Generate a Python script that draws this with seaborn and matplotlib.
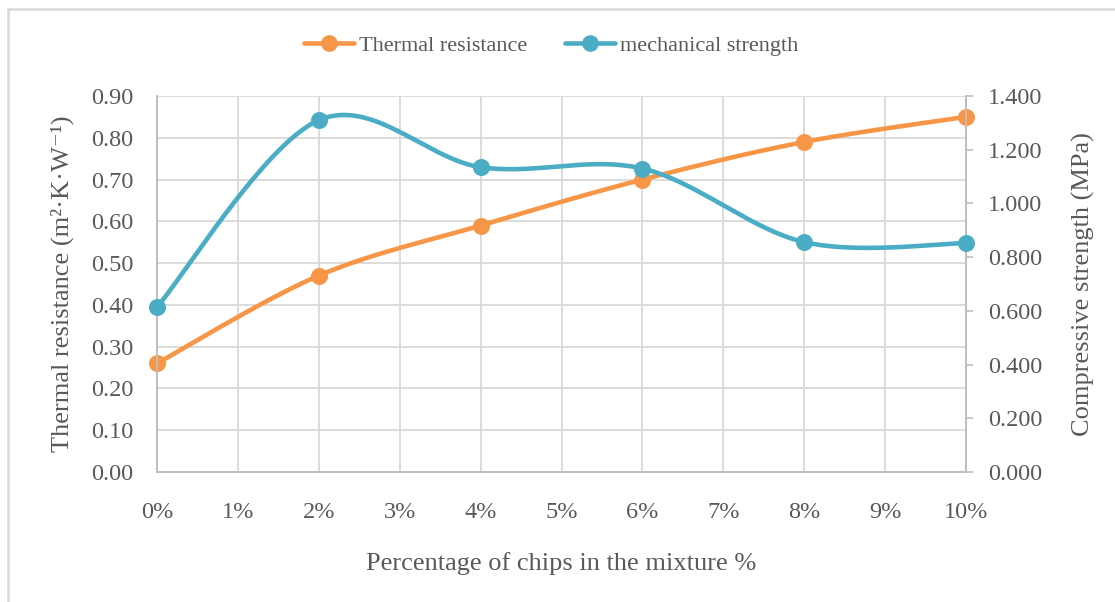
import numpy as np
import pandas as pd
import matplotlib
matplotlib.use("Agg")
import matplotlib.pyplot as plt
from matplotlib.lines import Line2D
import seaborn as sns

# Measured data
chip_pct = [0, 2, 4, 6, 8, 10]
thermal_resistance = [0.26, 0.47, 0.59, 0.70, 0.79, 0.85]
mech_strength = [0.614, 1.310, 1.135, 1.130, 0.856, 0.852]
x_tick_labels = [f"{i}%" for i in range(11)]
left_ticks = [0.0, 0.1, 0.2, 0.3, 0.4, 0.5, 0.6, 0.7, 0.8, 0.9]
right_ticks = [0.0, 0.2, 0.4, 0.6, 0.8, 1.0, 1.2, 1.4]

ORANGE = "#F79646"
BLUE = "#4BACC6"
GRID = "#D9D9D9"
TEXT = "#595959"


def smooth_curve(xs, ys, n=40):
    """Catmull-Rom style cubic Bezier smoothing through every point."""
    xs = np.asarray(xs, float)
    ys = np.asarray(ys, float)
    px = np.concatenate([[xs[0]], xs, [xs[-1]]])
    py = np.concatenate([[ys[0]], ys, [ys[-1]]])
    out_x, out_y = [], []
    t = np.linspace(0, 1, n)
    for i in range(1, len(px) - 2):
        p0 = np.array([px[i], py[i]])
        p3 = np.array([px[i + 1], py[i + 1]])
        c1 = p0 + (np.array([px[i + 1], py[i + 1]]) - np.array([px[i - 1], py[i - 1]])) / 6
        c2 = p3 - (np.array([px[i + 2], py[i + 2]]) - np.array([px[i], py[i]])) / 6
        b = ((1 - t) ** 3)[:, None] * p0 + (3 * (1 - t) ** 2 * t)[:, None] * c1 \
            + (3 * (1 - t) * t ** 2)[:, None] * c2 + (t ** 3)[:, None] * p3
        out_x.extend(b[:, 0])
        out_y.extend(b[:, 1])
    return np.array(out_x), np.array(out_y)


sns.set_theme(style="white")
plt.rcParams["font.family"] = ["Liberation Serif", "DejaVu Serif"]
plt.rcParams["text.color"] = TEXT
plt.rcParams["axes.labelcolor"] = TEXT
plt.rcParams["xtick.color"] = TEXT
plt.rcParams["ytick.color"] = TEXT

TICK_FS = 17.5
LABEL_FS = 19

fig = plt.figure(figsize=(11.15, 6.02), dpi=100)
ax = fig.add_axes([157 / 1115, 1 - 472 / 602, (966 - 157) / 1115, (472 - 96) / 602])
ax2 = ax.twinx()

# Thermal resistance on left axis
tx, ty = smooth_curve(chip_pct, thermal_resistance)
sns.lineplot(x=tx, y=ty, ax=ax, color=ORANGE, linewidth=3.3, sort=False, zorder=3)
sns.scatterplot(x=chip_pct, y=thermal_resistance, ax=ax, color=ORANGE, s=150,
                edgecolor=ORANGE, linewidth=0, zorder=4, clip_on=False)

# Mechanical strength on right axis
mx, my = smooth_curve(chip_pct, mech_strength)
sns.lineplot(x=mx, y=my, ax=ax2, color=BLUE, linewidth=3.3, sort=False, zorder=3)
sns.scatterplot(x=chip_pct, y=mech_strength, ax=ax2, color=BLUE, s=150,
                edgecolor=BLUE, linewidth=0, zorder=4, clip_on=False)

ax.set_xlim(0, 10)
ax.set_ylim(0, 0.9)
ax2.set_ylim(0, 1.4)
ax.set_xticks(range(11))
ax.set_xticklabels(x_tick_labels)
ax.set_yticks(left_ticks)
ax.set_yticklabels([f"{v:.2f}" for v in left_ticks])
ax2.set_yticks(right_ticks)
ax2.set_yticklabels([f"{v:.3f}" for v in right_ticks])

ax.grid(True, color=GRID, linewidth=1.3)
ax.set_axisbelow(True)
for a in (ax, ax2):
    a.spines["top"].set_visible(False)
    for side in ("left", "right", "bottom"):
        a.spines[side].set_color("#BFBFBF")
        a.spines[side].set_linewidth(1.3)

ax.tick_params(axis="x", length=0, pad=21.5, labelsize=TICK_FS)
ax.tick_params(axis="y", length=0, pad=17, labelsize=TICK_FS)
ax2.tick_params(axis="y", length=5, width=1.2, color="#BFBFBF", direction="out", pad=11, labelsize=TICK_FS)

ax.set_xlabel("Percentage of chips in the mixture %", fontsize=LABEL_FS, labelpad=21)
ax.set_ylabel("Thermal resistance (m²·K·W⁻¹)", fontsize=LABEL_FS, labelpad=12)
ax2.set_ylabel("Compressive strength (MPa)", fontsize=LABEL_FS, labelpad=21)

handles = [
    Line2D([], [], color=ORANGE, lw=3.3, marker="o", markersize=11),
    Line2D([], [], color=BLUE, lw=3.3, marker="o", markersize=11),
]
fig.legend(handles, ["Thermal resistance", "mechanical strength"], loc="center",
           bbox_to_anchor=(551 / 1115, 1 - 46 / 602), ncol=2, frameon=False,
           fontsize=16, handlelength=2.25, handletextpad=0.22, columnspacing=1.7)

# Chart area border
fig.add_artist(Line2D([8 / 1115, 1], [1 - 9 / 602, 1 - 9 / 602], color=GRID, lw=1.8,
                      transform=fig.transFigure))
fig.add_artist(Line2D([8 / 1115, 8 / 1115], [0, 1 - 9 / 602], color=GRID, lw=1.8,
                      transform=fig.transFigure))

fig.savefig("out.png", dpi=100, facecolor="white")
